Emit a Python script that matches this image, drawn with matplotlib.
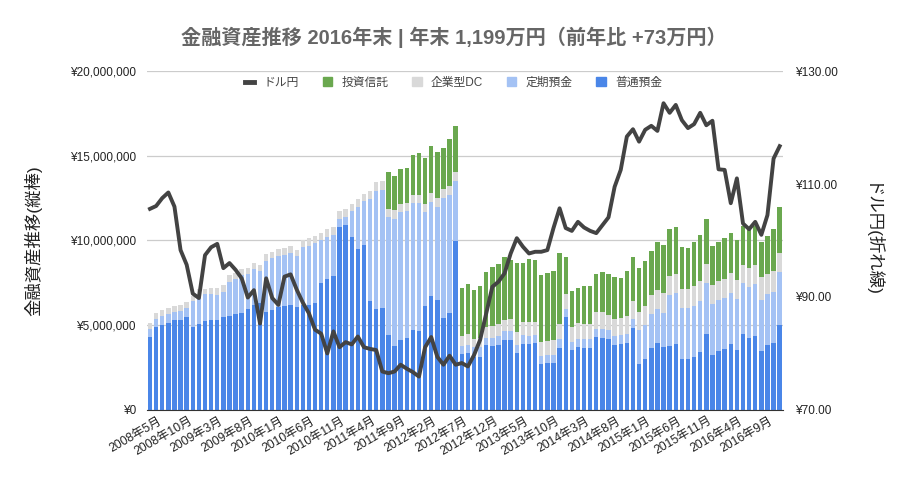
import numpy as np
import pandas as pd
import matplotlib
matplotlib.use("Agg")
import matplotlib.pyplot as plt
import matplotlib.transforms as mtransforms
from matplotlib.ticker import FuncFormatter, MultipleLocator
from matplotlib.patches import Patch
from matplotlib.lines import Line2D

plt.rcParams['font.family'] = ['Liberation Sans', 'Noto Sans CJK JP']

# 月 (2008年5月〜2016年12月)
months = pd.period_range("2008-05", "2016-12", freq="M")
month_labels = [f"{p.year}年{p.month}月" for p in months]

# 残高 (万円)
futsuu = [429, 492, 501, 511, 531, 531, 547, 492, 505, 527, 531, 531, 547, 555, 566, 570,
          596, 619, 630, 580, 590, 610, 614, 619, 605, 618, 618, 631, 751, 771, 790, 1078,
          1094, 1020, 949, 976, 641, 594, 602, 441, 376, 412, 424, 471, 465, 612, 671, 647,
          545, 573, 994, 329, 337, 314, 314, 382, 378, 382, 412, 412, 333, 388, 388, 392,
          271, 275, 275, 367, 549, 353, 369, 363, 363, 431, 427, 416, 383, 388, 395, 484,
          271, 299, 366, 393, 374, 379, 389, 299, 299, 315, 340, 448, 324, 348, 360, 389,
          354, 448, 425, 437, 348, 383, 393, 501]
teiki = [51, 45, 54, 55, 49, 55, 53, 151, 173, 157, 153, 147, 151, 202, 205, 226,
         204, 211, 192, 301, 305, 300, 302, 309, 301, 344, 352, 353, 249, 249, 245, 49,
         47, 153, 251, 255, 604, 700, 698, 700, 751, 755, 752, 749, 755, 555, 554, 549,
         704, 698, 355, 48, 49, 55, 55, 45, 49, 53, 55, 55, 49, 53, 49, 49,
         49, 49, 49, 49, 45, 45, 49, 53, 53, 49, 53, 55, 55, 55, 55, 53,
         201, 202, 200, 203, 200, 299, 299, 305, 305, 299, 304, 303, 301, 301, 303, 303,
         301, 303, 303, 306, 301, 301, 305, 315]
kigyou_dc = [31, 33, 35, 34, 34, 33, 35, 30, 34, 32, 34, 40, 39, 39, 35, 34,
             36, 35, 33, 37, 37, 38, 38, 40, 39, 43, 46, 43, 45, 45, 45, 49,
             45, 43, 45, 44, 49, 53, 53, 45, 53, 49, 46, 49, 49, 49, 53, 55,
             55, 51, 57, 58, 61, 47, 53, 63, 67, 71, 66, 72, 79, 79, 79, 79,
             78, 84, 88, 90, 92, 92, 96, 90, 90, 95, 98, 92, 97, 102, 105, 106,
             104, 113, 112, 112, 114, 113, 114, 110, 108, 118, 118, 110, 112, 114, 110, 118,
             112, 104, 112, 112, 134, 116, 122, 112]
toushin = [0] * 39 + [216, 198, 206, 205, 235, 247, 268, 281, 273,
                      241, 276, 270, 287, 294, 294, 307, 324, 349, 357, 369, 343, 408, 349, 376, 366,
                      396, 402, 406, 419, 216, 212, 208, 223, 227, 229, 236, 241, 247, 232, 265, 262,
                      260, 263, 262, 281, 283, 279, 276, 250, 246, 257, 268, 265, 233, 226, 240, 232,
                      236, 231, 236, 231, 210, 229, 246, 271]

# ドル円
usdjpy = [105.6, 106.1, 107.5, 108.5, 106.0, 98.3, 95.7, 90.6, 89.8, 97.4, 98.8, 99.4,
          95.1, 96.0, 94.8, 93.3, 89.9, 91.2, 85.3, 93.3, 89.8, 88.6, 93.6, 94.0,
          91.3, 89.0, 87.1, 84.2, 83.5, 80.0, 83.9, 81.1, 82.0, 81.6, 83.0, 81.1,
          80.8, 80.6, 76.8, 76.5, 76.8, 78.0, 77.3, 76.7, 75.9, 81.1, 82.9, 79.4,
          78.0, 79.6, 78.0, 78.3, 77.7, 79.7, 82.4, 87.1, 91.8, 92.7, 94.2, 97.7,
          100.4, 98.9, 97.7, 98.0, 98.0, 98.3, 102.2, 105.7, 102.2, 101.7, 103.3, 102.3,
          101.7, 101.3, 102.7, 104.1, 109.5, 112.5, 118.4, 119.7, 117.5, 119.6, 120.3, 119.4,
          124.3, 122.6, 124.0, 121.3, 119.9, 120.6, 122.6, 120.4, 121.2, 112.6, 112.5, 106.6,
          111.0, 103.0, 102.0, 103.3, 101.0, 104.5, 114.5, 116.7]

c_futsuu = "#4a86e8"
c_teiki = "#a4c2f4"
c_dc = "#d9d9d9"
c_toushin = "#6aa84f"
c_line = "#434343"

fig = plt.figure(figsize=(9.07, 4.8), dpi=100)
ax = fig.add_axes([0.162, 0.146, 0.701, 0.706])

x = np.arange(len(months))
yen = lambda v: np.array(v) * 10000
b1 = yen(futsuu)
b2 = yen(teiki)
b3 = yen(kigyou_dc)
b4 = yen(toushin)
w = 0.72
ax.bar(x, b1, w, color=c_futsuu, zorder=2)
ax.bar(x, b2, w, bottom=b1, color=c_teiki, zorder=2)
ax.bar(x, b3, w, bottom=b1 + b2, color=c_dc, zorder=2)
ax.bar(x, b4, w, bottom=b1 + b2 + b3, color=c_toushin, zorder=2)

ax.set_xlim(-0.5, len(months) - 0.5)
ax.set_ylim(0, 20000000)
ax.yaxis.set_major_locator(MultipleLocator(5000000))
ax.yaxis.set_major_formatter(FuncFormatter(lambda v, p: f"¥{v:,.0f}"))
ax.grid(axis="y", color="#cccccc", linewidth=0.9, zorder=0)
ax.set_axisbelow(True)
for s in ["top", "left", "right"]:
    ax.spines[s].set_visible(False)
ax.spines["bottom"].set_color("#333333")
ax.tick_params(axis="both", length=0, labelsize=8.5, colors="#222222")
ax.tick_params(axis="y", pad=8)
ax.set_xticks(x[::5])
ax.set_xticklabels(month_labels[::5], rotation=30, ha="right", rotation_mode="anchor", fontsize=8.7)
shift = mtransforms.ScaledTranslation(8 / 100, 0, fig.dpi_scale_trans)
for lab in ax.get_xticklabels():
    lab.set_transform(lab.get_transform() + shift)
ax.set_ylabel("金融資産推移(縦棒)", fontsize=12.5, color="#222222", labelpad=20)

ax2 = ax.twinx()
ax2.plot(x, usdjpy, color=c_line, linewidth=2.8, solid_joinstyle="round", zorder=5)
ax2.set_ylim(70, 130)
ax2.set_yticks([70, 90, 110, 130])
ax2.yaxis.set_major_formatter(FuncFormatter(lambda v, p: f"¥{v:.2f}"))
for s in ["top", "left", "right", "bottom"]:
    ax2.spines[s].set_visible(False)
ax2.tick_params(axis="y", length=0, labelsize=8.5, colors="#222222", pad=9)
ax2.set_ylabel("ドル円(折れ線)", fontsize=12.5, color="#222222", rotation=270, labelpad=30)

fig.text(0.5, 0.922, "金融資産推移 2016年末 | 年末 1,199万円（前年比 +73万円）",
         ha="center", va="center", fontsize=14.5, fontweight="bold", color="#666666")

handles = [Line2D([0], [0], color=c_line, linewidth=3.5),
           Patch(color=c_toushin), Patch(color=c_dc), Patch(color=c_teiki), Patch(color=c_futsuu)]
labels = ["ドル円", "投資信託", "企業型DC", "定期預金", "普通預金"]
fig.legend(handles, labels, loc="center", bbox_to_anchor=(0.5, 0.827), ncol=5, frameon=False,
           fontsize=8.5, handlelength=0.8, handleheight=0.8, handletextpad=0.8, columnspacing=2.0,
           labelcolor="#444444")

fig.savefig("out.png", dpi=100)
